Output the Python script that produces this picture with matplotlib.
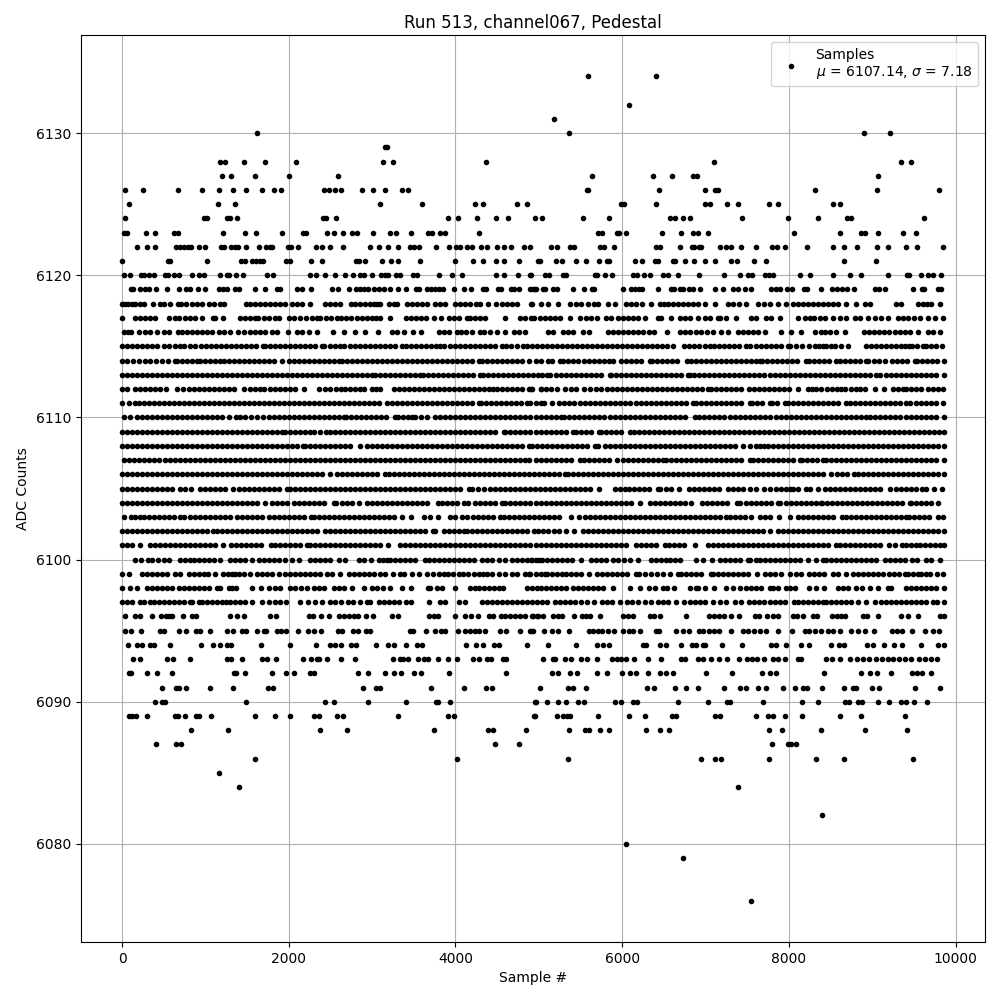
import matplotlib
matplotlib.use("Agg")
import matplotlib.pyplot as plt
import numpy as np

# sample numbers, one list per ADC count
adc_6134 = [5588, 6404]
adc_6132 = [6080]
adc_6131 = [5180]
adc_6130 = [1616, 5360, 8900, 9212]
adc_6129 = [3152, 3180]
adc_6128 = [1180, 1236, 1460, 1712, 2084, 3128, 3248, 4364, 7100, 9344, 9464]
adc_6127 = [1196, 1304, 1592, 2000, 2588, 5636, 6368, 6596, 6848, 6896, 9068]
adc_6126 = [32, 248, 668, 956, 1160, 1328, 1484, 1676, 1820, 1904, 2420, 2480, 2552, 2624, 2876, 3008, 3152, 3356, 3428,
            5576, 5592, 6440, 6992, 7112, 7144, 8312, 9056, 9800]
adc_6125 = [80, 1148, 1352, 3092, 3596, 4232, 4328, 4736, 4856, 5984, 6024, 6404, 6992, 7052, 7256, 7388, 7760, 7868, 8528, 8612]
adc_6124 = [32, 980, 1016, 1256, 1292, 1376, 2408, 2444, 2564, 3908, 4028, 4256, 4484, 4628, 4952, 5036, 5528, 5840, 6572,
            6632, 6728, 6812, 7436, 7988, 8348, 8696, 8744, 9620]
adc_6123 = [20, 56, 284, 392, 620, 668, 1208, 1472, 1604, 1916, 2168, 2204, 2456, 2540, 2648, 2756, 2816, 3008, 3212, 3284,
            3464, 3668, 3716, 3812, 3872, 4280, 5708, 5756, 5936, 5960, 6044, 6476, 6704, 6848, 6908, 7028, 8060, 8612, 8864,
            8912, 9068, 9368, 9524]
adc_6122 = [176, 296, 392, 644, 692, 740, 788, 828, 920, 992, 1184, 1220, 1304, 1352, 1396, 1484, 1640, 1724, 1772, 1796,
            1988, 2024, 2108, 2324, 2396, 2492, 2648, 2972, 3080, 3188, 3308, 3452, 3500, 3560, 3764, 3920, 4004, 4052, 4140,
            4200, 4308, 4376, 4496, 4580, 4664, 4820, 4892, 5144, 5216, 5372, 5420, 5732, 5780, 5900, 6404, 6452, 6692, 6836,
            6860, 6920, 6944, 7172, 7244, 7304, 7424, 7604, 7796, 7856, 7948, 8216, 8528, 8660, 8816, 9056, 9188, 9404, 9536, 9848]
adc_6121 = [0, 548, 572, 1016, 1424, 1472, 1556, 1604, 1652, 1688, 1964, 2012, 2264, 2396, 2804, 2840, 2912, 3116, 3224, 3308,
            3572, 3992, 4208, 4328, 4484, 4580, 4760, 4988, 5008, 5204, 5276, 5444, 5564, 5720, 5816, 5840, 6152, 6236, 6392,
            6428, 6608, 6632, 6752, 6860, 6992, 7112, 7304, 7376, 7580, 7724, 8660, 9044]
adc_6120 = [20, 92, 224, 260, 320, 380, 512, 548, 620, 680, 836, 920, 980, 1172, 1256, 1280, 1364, 1448, 1736, 1808, 2252,
            2324, 2432, 2552, 2672, 2768, 2852, 2900, 2996, 3104, 3152, 3188, 3284, 3332, 3488, 3536, 3800, 3956, 4076, 4484,
            4580, 4748, 4896, 4904, 5072, 5120, 5288, 5324, 5672, 5696, 5792, 5876, 6128, 6176, 6260, 6332, 6488, 6548, 6668,
            6920, 7220, 7412, 7508, 7556, 7712, 7760, 7808, 8132, 8252, 8528, 8732, 8864, 9188, 9416, 9440, 9584, 9668, 9728, 9824]
adc_6119 = [104, 128, 212, 272, 320, 404, 536, 680, 764, 812, 908, 992, 1160, 1208, 1256, 1352, 1400, 1592, 1712, 1856, 1892,
            2096, 2156, 2264, 2516, 2588, 2720, 2804, 2852, 2900, 2948, 3020, 3080, 3140, 3212, 3308, 3404, 3524, 3560, 3656,
            3704, 3752, 3800, 3848, 3980, 4100, 4184, 4328, 4364, 4508, 4544, 4664, 4700, 4760, 4892, 4928, 4952, 4968, 5048,
            5072, 5168, 5216, 5408, 5540, 5636, 5660, 6008, 6104, 6152, 6200, 6236, 6428, 6584, 6620, 6692, 6728, 6800, 6848,
            6932, 7112, 7208, 7328, 7388, 7472, 7544, 7784, 7844, 7892, 7976, 8036, 8180, 8216, 8384, 8516, 8576, 8636, 8696,
            8780, 9032, 9080, 9152, 9488, 9596, 9620, 9788, 9824]
adc_6118 = [0, 30, 70, 120, 160, 212, 260, 372, 460, 500, 580, 668, 708, 772, 840, 900, 960, 1040, 1100, 1170, 1220, 1492,
            1532, 1600, 1660, 1720, 1780, 1840, 1900, 1960, 2040, 2100, 2164, 2260, 2432, 2500, 2560, 2620, 2748, 2800, 2860,
            2920, 2980, 3024, 3060, 3100, 3200, 3260, 3300, 3420, 3480, 3540, 3600, 3660, 3760, 3820, 3880, 4000, 4060, 4120,
            4180, 4250, 4300, 4388, 4484, 4560, 4620, 4680, 4740, 4920, 4908, 5028, 5108, 5228, 5376, 5440, 5510, 5590, 5660,
            5708, 5828, 5912, 6048, 6110, 6170, 6236, 6348, 6448, 6500, 6548, 6608, 6670, 6730, 6790, 6850, 6910, 6988, 7112,
            7268, 7328, 7400, 7488, 7628, 7700, 7768, 7868, 7960, 8048, 8110, 8170, 8230, 8288, 8348, 8410, 8470, 8530, 8590,
            8688, 8800, 8912, 8968, 9288, 9348, 9548, 9610, 9660, 9708, 9816]
adc_6117 = [0, 160, 220, 280, 340, 400, 560, 640, 680, 760, 816, 880, 960, 1092, 1120, 1212, 1412, 1470, 1530, 1590, 1628,
            1700, 1760, 1830, 1880, 2000, 2060, 2130, 2212, 2280, 2340, 2380, 2450, 2510, 2580, 2628, 2690, 2750, 2820, 2880,
            2940, 3000, 3050, 3092, 3212, 3412, 3470, 3530, 3590, 3650, 3740, 3828, 3920, 3980, 4040, 4140, 4180, 4240, 4300,
            4360, 4592, 4772, 4840, 4940, 4908, 5008, 5070, 5130, 5190, 5248, 5368, 5488, 5560, 5630, 5700, 5808, 5868, 5948,
            6010, 6070, 6130, 6188, 6268, 6428, 6468, 6588, 6688, 6748, 6810, 6908, 6988, 7050, 7148, 7176, 7240, 7368, 7548,
            7608, 7728, 7790, 7888, 8108, 8188, 8250, 8300, 8368, 8428, 8528, 8608, 8688, 8788, 8850, 8948, 9032, 9108, 9188,
            9308, 9370, 9430, 9500, 9570, 9668, 9748, 9848]
adc_6116 = [20, 70, 108, 200, 280, 332, 420, 500, 560, 668, 720, 780, 840, 900, 960, 1020, 1080, 1160, 1228, 1292, 1388, 1460,
            1532, 1600, 1660, 1720, 1800, 1860, 1988, 2100, 2160, 2240, 2340, 2532, 2668, 2800, 2920, 3068, 3240, 3300, 3380,
            3488, 3588, 3800, 3860, 3920, 4020, 4068, 4128, 4200, 4300, 4340, 4420, 4500, 4600, 4700, 4760, 4840, 5108, 5168,
            5288, 5350, 5410, 5528, 5600, 5828, 5890, 5950, 6010, 6070, 6130, 6190, 6250, 6320, 6376, 6536, 6688, 6750, 6810,
            6880, 6950, 7020, 7088, 7184, 7268, 7388, 7448, 7508, 7568, 7630, 7708, 7908, 8028, 8148, 8308, 8388, 8428, 8490,
            8568, 8668, 8900, 8960, 9020, 9080, 9140, 9200, 9268, 9328, 9390, 9450, 9548, 9668, 9728, 9816]
adc_6115 = [0, 60, 120, 180, 240, 300, 360, 420, 508, 560, 630, 700, 748, 810, 880, 950, 1012, 1072, 1130, 1190, 1250, 1310,
            1370, 1430, 1490, 1550, 1610, 1688, 1720, 1780, 1840, 1900, 1960, 2020, 2080, 2140, 2200, 2260, 2320, 2400, 2428,
            2490, 2550, 2612, 2660, 2730, 2800, 2852, 2910, 2970, 3030, 3090, 3150, 3210, 3270, 3360, 3412, 3470, 3530, 3590,
            3650, 3710, 3770, 3820, 3868, 3930, 3990, 4050, 4110, 4170, 4230, 4290, 4350, 4410, 4470, 4560, 4604, 4670, 4740,
            4812, 4860, 4920, 4980, 5040, 5100, 5160, 5220, 5280, 5340, 5400, 5460, 5520, 5580, 5640, 5700, 5760, 5820, 5880,
            5940, 6000, 6060, 6120, 6180, 6240, 6300, 6360, 6420, 6480, 6540, 6608, 6736, 6800, 6860, 6920, 6990, 7056, 7096,
            7160, 7220, 7280, 7340, 7400, 7480, 7536, 7600, 7660, 7720, 7780, 7840, 7900, 7988, 8016, 8080, 8160, 8240, 8308,
            8360, 8408, 8448, 8508, 8548, 8628, 8708, 8928, 8990, 9050, 9110, 9160, 9228, 9280, 9340, 9390, 9440, 9480, 9540,
            9608, 9648, 9710, 9770, 9832]
adc_6114 = [0, 60, 130, 200, 270, 340, 410, 480, 550, 640, 660, 720, 780, 840, 900, 940, 1000, 1060, 1120, 1170, 1220, 1280,
            1340, 1400, 1460, 1520, 1580, 1640, 1700, 1760, 1820, 1920, 2000, 2060, 2120, 2180, 2240, 2300, 2360, 2420, 2480,
            2540, 2600, 2640, 2700, 2760, 2820, 2880, 2940, 3000, 3060, 3120, 3180, 3240, 3300, 3360, 3420, 3480, 3540, 3600,
            3660, 3720, 3780, 3840, 3900, 3960, 4020, 4080, 4140, 4200, 4280, 4320, 4380, 4440, 4500, 4560, 4620, 4680, 4740,
            4800, 4880, 4960, 5030, 5108, 5160, 5248, 5288, 5350, 5410, 5470, 5536, 5600, 5660, 5720, 5780, 5840, 5888, 5988,
            6050, 6110, 6170, 6230, 6328, 6360, 6420, 6480, 6540, 6600, 6660, 6776, 6820, 6880, 6940, 7000, 7060, 7120, 7180,
            7240, 7300, 7360, 7420, 7480, 7540, 7600, 7648, 7680, 7740, 7800, 7860, 7920, 7980, 8040, 8100, 8208, 8240, 8300,
            8360, 8420, 8480, 8568, 8608, 8670, 8730, 8790, 8850, 8920, 8952, 9020, 9080, 9148, 9240, 9300, 9360, 9420, 9508,
            9536, 9600, 9660, 9720, 9780, 9860]
adc_6113 = [0, 60, 120, 180, 240, 300, 360, 420, 480, 540, 600, 660, 720, 780, 840, 900, 960, 1020, 1080, 1140, 1200, 1260,
            1320, 1380, 1440, 1500, 1560, 1620, 1680, 1740, 1800, 1860, 1920, 1980, 2040, 2100, 2160, 2220, 2280, 2340, 2400,
            2460, 2520, 2580, 2640, 2700, 2760, 2820, 2880, 2940, 3000, 3030, 3090, 3150, 3210, 3270, 3330, 3390, 3450, 3510,
            3580, 3612, 3670, 3730, 3790, 3850, 3910, 3970, 4030, 4090, 4150, 4210, 4300, 4332, 4390, 4450, 4510, 4570, 4630,
            4690, 4750, 4810, 4870, 4930, 4990, 5040, 5096, 5136, 5200, 5260, 5320, 5380, 5440, 5500, 5560, 5620, 5680, 5740,
            5848, 5868, 5930, 5990, 6050, 6110, 6170, 6230, 6290, 6350, 6410, 6470, 6530, 6590, 6650, 6710, 6788, 6808, 6856,
            6920, 6980, 7040, 7100, 7160, 7220, 7280, 7340, 7400, 7460, 7520, 7580, 7640, 7700, 7768, 7828, 7890, 7950, 8010,
            8070, 8130, 8190, 8250, 8310, 8370, 8430, 8490, 8550, 8610, 8670, 8730, 8790, 8850, 8910, 8970, 9048, 9096, 9160,
            9220, 9280, 9340, 9400, 9460, 9520, 9580, 9640, 9700, 9760, 9860]
adc_6112 = [0, 60, 160, 220, 280, 340, 400, 460, 532, 660, 730, 800, 860, 920, 980, 1040, 1100, 1160, 1220, 1280, 1340, 1460,
            1530, 1600, 1660, 1700, 1780, 1840, 1900, 1960, 2020, 2080, 2180, 2360, 2430, 2500, 2572, 2630, 2680, 2740, 2800,
            2860, 2900, 3000, 3050, 3100, 3260, 3320, 3380, 3440, 3500, 3560, 3620, 3680, 3740, 3800, 3860, 3920, 3980, 4040,
            4100, 4160, 4220, 4280, 4340, 4400, 4452, 4500, 4560, 4620, 4680, 4740, 4800, 4880, 4920, 5020, 4908, 5028, 5080,
            5150, 5216, 5308, 5380, 5448, 5536, 5610, 5680, 5748, 5816, 5880, 5940, 6000, 6060, 6120, 6180, 6240, 6300, 6360,
            6420, 6480, 6540, 6600, 6660, 6720, 6780, 6840, 6900, 6960, 7028, 7068, 7130, 7190, 7250, 7308, 7360, 7428, 7520,
            7576, 7640, 7700, 7760, 7820, 7880, 7940, 8000, 8108, 8228, 8280, 8328, 8388, 8456, 8520, 8580, 8628, 8676, 8740,
            8800, 8850, 8908, 9028, 9140, 9248, 9310, 9370, 9408, 9468, 9528, 9588, 9668, 9728, 9790, 9848]
adc_6111 = [0, 80, 160, 200, 260, 320, 380, 440, 500, 560, 620, 680, 740, 800, 860, 920, 980, 1040, 1100, 1160, 1220, 1280,
            1340, 1400, 1460, 1520, 1580, 1640, 1700, 1760, 1820, 1880, 1940, 2000, 2060, 2120, 2180, 2240, 2300, 2360, 2420,
            2480, 2540, 2600, 2660, 2720, 2780, 2840, 2900, 2960, 3020, 3080, 3180, 3240, 3300, 3360, 3420, 3480, 3540, 3600,
            3660, 3720, 3780, 3840, 3900, 3960, 4020, 4080, 4140, 4200, 4280, 4308, 4370, 4430, 4490, 4550, 4610, 4670, 4730,
            4790, 4860, 4900, 4960, 5020, 5056, 5160, 5240, 5300, 5360, 5420, 5488, 5548, 5610, 5670, 5730, 5790, 5850, 5910,
            5970, 6028, 6096, 6160, 6220, 6280, 6340, 6400, 6460, 6520, 6580, 6640, 6700, 6760, 6848, 6880, 6940, 7000, 7060,
            7120, 7180, 7240, 7300, 7360, 7420, 7528, 7560, 7620, 7680, 7768, 7800, 7860, 7948, 7988, 8050, 8110, 8170, 8230,
            8290, 8350, 8410, 8470, 8530, 8590, 8688, 8728, 8790, 8850, 8910, 8970, 9030, 9090, 9150, 9210, 9270, 9328, 9408,
            9456, 9520, 9580, 9640, 9700, 9760, 9848]
adc_6110 = [28, 100, 180, 240, 300, 360, 420, 480, 540, 600, 660, 720, 780, 840, 900, 960, 1020, 1080, 1140, 1200, 1280, 1372,
            1412, 1480, 1550, 1620, 1692, 1760, 1820, 1880, 1940, 2000, 2060, 2120, 2180, 2240, 2300, 2360, 2420, 2480, 2540,
            2600, 2660, 2692, 2750, 2810, 2870, 2930, 2990, 3050, 3110, 3170, 3280, 3308, 3370, 3430, 3480, 3520, 3590, 3660,
            3752, 3820, 3880, 3940, 4000, 4060, 4120, 4180, 4240, 4300, 4360, 4420, 4480, 4540, 4600, 4660, 4720, 4780, 4840,
            4900, 4960, 5020, 5080, 5140, 5200, 5268, 5296, 5360, 5420, 5480, 5540, 5600, 5660, 5720, 5780, 5848, 5908, 5976,
            6028, 6090, 6150, 6210, 6270, 6330, 6390, 6450, 6510, 6570, 6630, 6690, 6750, 6868, 6920, 6980, 7040, 7100, 7160,
            7220, 7296, 7348, 7408, 7470, 7530, 7590, 7650, 7708, 7776, 7840, 7900, 7960, 8020, 8080, 8140, 8200, 8260, 8320,
            8380, 8440, 8500, 8560, 8620, 8680, 8740, 8800, 8860, 8928, 8968, 9030, 9090, 9150, 9210, 9268, 9336, 9400, 9460,
            9520, 9580, 9640, 9700, 9760, 9860]
adc_6109 = [0, 60, 120, 180, 240, 300, 360, 420, 480, 540, 600, 660, 720, 780, 840, 900, 960, 1020, 1080, 1140, 1200, 1260,
            1320, 1380, 1440, 1500, 1560, 1620, 1680, 1740, 1800, 1860, 1920, 1960, 2020, 2080, 2140, 2200, 2260, 2308, 2380,
            2452, 2500, 2560, 2620, 2680, 2740, 2800, 2860, 2920, 2980, 3040, 3100, 3160, 3220, 3280, 3340, 3400, 3460, 3520,
            3580, 3640, 3700, 3760, 3820, 3880, 3940, 4000, 4060, 4120, 4180, 4240, 4300, 4360, 4420, 4480, 4580, 4600, 4660,
            4720, 4780, 4840, 4900, 4960, 5020, 5080, 5140, 5200, 5260, 5320, 5408, 5440, 5500, 5560, 5620, 5720, 5748, 5810,
            5870, 5930, 5990, 6096, 6136, 6200, 6260, 6320, 6380, 6440, 6500, 6560, 6620, 6680, 6740, 6800, 6860, 6920, 6980,
            7040, 7100, 7160, 7220, 7280, 7340, 7400, 7460, 7520, 7580, 7640, 7700, 7760, 7820, 7880, 7940, 8000, 8060, 8120,
            8180, 8240, 8300, 8360, 8420, 8480, 8540, 8600, 8660, 8720, 8780, 8840, 8900, 8960, 9020, 9080, 9140, 9200, 9260,
            9320, 9380, 9440, 9500, 9560, 9620, 9680, 9740, 9800, 9860]
adc_6108 = [0, 60, 120, 180, 240, 300, 360, 420, 480, 540, 600, 660, 720, 780, 840, 900, 960, 1020, 1080, 1140, 1200, 1260,
            1320, 1380, 1440, 1500, 1560, 1620, 1680, 1740, 1800, 1860, 1920, 1980, 2040, 2100, 2172, 2200, 2260, 2320, 2380,
            2440, 2500, 2560, 2620, 2680, 2740, 2860, 2940, 3000, 3060, 3120, 3180, 3240, 3300, 3360, 3420, 3480, 3540, 3600,
            3660, 3720, 3780, 3840, 3900, 3960, 4020, 4080, 4140, 4200, 4260, 4320, 4380, 4440, 4500, 4560, 4620, 4680, 4740,
            4800, 4880, 4920, 4980, 5040, 5100, 5160, 5220, 5280, 5340, 5400, 5460, 5520, 5580, 5668, 5708, 5788, 5850, 5910,
            5970, 6030, 6090, 6150, 6210, 6270, 6330, 6390, 6450, 6510, 6570, 6630, 6690, 6750, 6810, 6870, 6930, 6990, 7050,
            7110, 7170, 7230, 7290, 7350, 7448, 7536, 7600, 7650, 7700, 7744, 7810, 7870, 7930, 7990, 8050, 8110, 8170, 8230,
            8290, 8350, 8410, 8470, 8530, 8590, 8650, 8710, 8770, 8830, 8890, 8950, 9010, 9070, 9130, 9190, 9250, 9310, 9370,
            9430, 9490, 9550, 9610, 9670, 9730, 9790, 9860]
adc_6107 = [20, 80, 140, 200, 260, 320, 380, 440, 520, 572, 640, 700, 760, 820, 880, 940, 1000, 1060, 1120, 1180, 1240, 1300,
            1360, 1420, 1480, 1540, 1600, 1660, 1720, 1780, 1840, 1900, 1960, 2020, 2080, 2140, 2200, 2260, 2320, 2380, 2440,
            2500, 2560, 2620, 2680, 2740, 2800, 2860, 2920, 2980, 3040, 3100, 3160, 3220, 3280, 3340, 3400, 3460, 3520, 3580,
            3640, 3700, 3760, 3820, 3880, 3940, 4000, 4060, 4120, 4180, 4240, 4300, 4360, 4420, 4480, 4540, 4600, 4660, 4720,
            4780, 4840, 4888, 4968, 5028, 5090, 5150, 5210, 5270, 5330, 5390, 5488, 5536, 5600, 5660, 5720, 5776, 5840, 5936,
            6008, 6070, 6130, 6190, 6250, 6310, 6370, 6430, 6488, 6528, 6590, 6650, 6710, 6770, 6830, 6890, 6950, 7010, 7070,
            7130, 7190, 7250, 7310, 7370, 7430, 7536, 7568, 7630, 7690, 7750, 7810, 7870, 7930, 7990, 8050, 8128, 8160, 8220,
            8280, 8340, 8408, 8448, 8510, 8570, 8630, 8690, 8750, 8810, 8870, 8930, 8990, 9050, 9110, 9170, 9230, 9290, 9350,
            9410, 9470, 9530, 9590, 9650, 9710, 9770, 9860]
adc_6106 = [0, 60, 120, 180, 240, 300, 360, 420, 480, 540, 600, 660, 720, 780, 840, 900, 960, 1020, 1080, 1140, 1200, 1260,
            1320, 1380, 1440, 1500, 1560, 1620, 1680, 1740, 1800, 1860, 1920, 1980, 2040, 2100, 2160, 2220, 2280, 2340, 2400,
            2500, 2580, 2640, 2700, 2760, 2820, 2880, 2940, 3000, 3060, 3160, 3200, 3260, 3320, 3380, 3440, 3500, 3560, 3620,
            3680, 3740, 3800, 3860, 3920, 3980, 4040, 4100, 4160, 4220, 4280, 4340, 4400, 4460, 4520, 4580, 4640, 4700, 4760,
            4820, 4880, 4940, 5000, 5060, 5120, 5180, 5240, 5308, 5348, 5410, 5470, 5530, 5590, 5650, 5710, 5770, 5830, 5890,
            5950, 6010, 6070, 6130, 6190, 6250, 6310, 6370, 6430, 6490, 6550, 6610, 6670, 6730, 6790, 6850, 6910, 6970, 7030,
            7090, 7150, 7210, 7270, 7330, 7390, 7450, 7510, 7570, 7630, 7690, 7750, 7810, 7870, 7930, 7990, 8050, 8110, 8170,
            8230, 8290, 8350, 8410, 8508, 8576, 8640, 8700, 8776, 8828, 8890, 8950, 9010, 9070, 9130, 9190, 9250, 9310, 9370,
            9430, 9490, 9550, 9610, 9670, 9730, 9790, 9860]
adc_6105 = [0, 60, 120, 180, 240, 300, 360, 420, 480, 540, 600, 700, 760, 828, 932, 1000, 1060, 1120, 1180, 1240, 1332, 1400,
            1460, 1520, 1580, 1640, 1700, 1760, 1820, 1880, 1980, 2020, 2080, 2140, 2200, 2260, 2320, 2380, 2440, 2500, 2560,
            2620, 2680, 2740, 2800, 2860, 2920, 2980, 3040, 3100, 3160, 3220, 3280, 3340, 3400, 3460, 3520, 3580, 3640, 3700,
            3760, 3820, 3880, 3940, 4000, 4060, 4160, 4200, 4268, 4348, 4410, 4470, 4530, 4590, 4650, 4710, 4770, 4830, 4890,
            4950, 5010, 5070, 5130, 5190, 5250, 5310, 5370, 5430, 5490, 5550, 5610, 5720, 5908, 5970, 6028, 6080, 6140, 6200,
            6260, 6320, 6428, 6456, 6520, 6580, 6680, 6800, 6860, 6920, 6980, 7040, 7100, 7160, 7268, 7328, 7390, 7448, 7528,
            7608, 7700, 7776, 7840, 7900, 7960, 8008, 8048, 8110, 8208, 8256, 8348, 8428, 8490, 8550, 8610, 8670, 8730, 8790,
            8850, 8910, 8970, 9030, 9090, 9208, 9288, 9350, 9410, 9470, 9530, 9600, 9640, 9736, 9840]
adc_6104 = [0, 60, 120, 180, 240, 300, 360, 420, 480, 540, 600, 660, 720, 780, 840, 900, 960, 1020, 1080, 1140, 1200, 1260,
            1320, 1380, 1440, 1500, 1560, 1620, 1720, 1800, 1860, 1920, 1980, 2060, 2120, 2180, 2240, 2300, 2360, 2420, 2540,
            2572, 2640, 2700, 2760, 2840, 2940, 3000, 3060, 3120, 3180, 3240, 3300, 3360, 3420, 3480, 3540, 3600, 3660, 3788,
            3840, 3900, 3960, 4020, 4100, 4150, 4240, 4300, 4360, 4420, 4480, 4560, 4600, 4660, 4720, 4780, 4840, 4900, 4960,
            5020, 5080, 5140, 5200, 5260, 5320, 5380, 5440, 5500, 5560, 5620, 5680, 5740, 5800, 5860, 5920, 5980, 6040, 6100,
            6208, 6328, 6390, 6450, 6510, 6570, 6630, 6690, 6750, 6820, 6960, 7020, 7080, 7140, 7200, 7260, 7376, 7416, 7480,
            7540, 7600, 7660, 7720, 7780, 7868, 7896, 7960, 8020, 8080, 8140, 8200, 8260, 8320, 8388, 8400, 8460, 8520, 8580,
            8640, 8700, 8760, 8820, 8880, 8940, 9000, 9060, 9120, 9180, 9240, 9300, 9360, 9448, 9468, 9530, 9590, 9650, 9710, 9788]
adc_6103 = [20, 108, 160, 220, 260, 320, 380, 440, 500, 560, 620, 700, 740, 810, 880, 932, 1000, 1060, 1120, 1180, 1240, 1300,
            1380, 1440, 1500, 1560, 1620, 1680, 1760, 1820, 1880, 1940, 2000, 2060, 2120, 2180, 2268, 2300, 2360, 2420, 2480,
            2540, 2600, 2660, 2720, 2780, 2840, 2900, 2960, 3020, 3080, 3140, 3200, 3260, 3360, 3468, 3620, 3700, 3788, 3932,
            4000, 4080, 4140, 4212, 4270, 4330, 4390, 4450, 4540, 4580, 4640, 4700, 4760, 4820, 4880, 4940, 5000, 5060, 5120,
            5176, 5240, 5388, 5480, 5548, 5608, 5670, 5730, 5790, 5850, 5910, 5970, 6030, 6090, 6150, 6210, 6270, 6330, 6390,
            6450, 6510, 6570, 6630, 6690, 6750, 6810, 6870, 6930, 6990, 7050, 7110, 7170, 7248, 7288, 7350, 7410, 7470, 7548,
            7648, 7710, 7770, 7880, 8008, 8108, 8170, 8230, 8290, 8350, 8410, 8470, 8530, 8640, 8680, 8740, 8800, 8860, 8920,
            8980, 9040, 9100, 9160, 9220, 9280, 9340, 9408, 9440, 9500, 9560, 9620, 9680, 9788, 9848]
adc_6102 = [0, 60, 120, 180, 240, 300, 360, 420, 480, 540, 600, 660, 720, 780, 840, 900, 960, 1020, 1092, 1140, 1200, 1260,
            1320, 1380, 1440, 1500, 1560, 1620, 1680, 1740, 1800, 1860, 1920, 1980, 2040, 2100, 2160, 2220, 2280, 2340, 2440,
            2500, 2560, 2620, 2680, 2740, 2800, 2860, 2920, 2980, 3040, 3100, 3160, 3220, 3280, 3340, 3400, 3460, 3520, 3580,
            3640, 3732, 3760, 3860, 3920, 3980, 4040, 4100, 4140, 4200, 4260, 4320, 4380, 4440, 4500, 4560, 4620, 4680, 4740,
            4800, 4860, 4940, 4988, 5050, 5110, 5176, 5240, 5330, 5416, 5528, 5590, 5650, 5710, 5770, 5830, 5890, 5950, 6010,
            6070, 6130, 6190, 6250, 6310, 6370, 6430, 6490, 6550, 6610, 6670, 6730, 6790, 6850, 6910, 6970, 7030, 7090, 7150,
            7210, 7270, 7330, 7390, 7450, 7510, 7570, 7630, 7690, 7776, 7868, 7930, 7990, 8050, 8110, 8170, 8230, 8290, 8350,
            8410, 8470, 8530, 8590, 8650, 8710, 8770, 8830, 8890, 8950, 9010, 9070, 9130, 9190, 9250, 9310, 9370, 9430, 9488,
            9548, 9610, 9670, 9730, 9790, 9860]
adc_6101 = [0, 60, 120, 220, 332, 390, 450, 510, 570, 630, 690, 750, 810, 870, 930, 990, 1050, 1110, 1212, 1308, 1370, 1430,
            1490, 1550, 1610, 1670, 1788, 1840, 1900, 1960, 2020, 2080, 2140, 2220, 2252, 2320, 2380, 2440, 2500, 2560, 2620,
            2680, 2740, 2800, 2860, 2920, 2980, 3040, 3100, 3188, 3340, 3400, 3460, 3520, 3580, 3640, 3700, 3760, 3820, 3880,
            3940, 4000, 4060, 4120, 4180, 4240, 4300, 4360, 4420, 4480, 4540, 4600, 4660, 4720, 4780, 4840, 4900, 4960, 5020,
            5080, 5140, 5200, 5260, 5320, 5380, 5440, 5500, 5560, 5620, 5680, 5740, 5800, 5860, 5920, 5980, 6040, 6160, 6228,
            6290, 6350, 6410, 6508, 6560, 6620, 6680, 6740, 6868, 7028, 7090, 7150, 7210, 7270, 7330, 7390, 7450, 7510, 7570,
            7630, 7690, 7750, 7810, 7870, 7930, 7990, 8050, 8110, 8170, 8230, 8290, 8350, 8410, 8470, 8568, 8608, 8670, 8730,
            8790, 8850, 8910, 8970, 9030, 9090, 9200, 9268, 9360, 9400, 9460, 9520, 9576, 9628, 9690, 9750, 9810, 9860]
adc_6100 = [160, 230, 308, 360, 430, 500, 560, 700, 760, 812, 860, 920, 980, 1040, 1100, 1180, 1300, 1360, 1420, 1480, 1560,
            1640, 1700, 1760, 1820, 1880, 1960, 2040, 2120, 2260, 2320, 2380, 2440, 2500, 2600, 2680, 2840, 2900, 2990, 3080,
            3130, 3180, 3220, 3280, 3340, 3400, 3460, 3520, 3640, 3680, 3740, 3800, 3860, 3920, 3980, 4040, 4100, 4160, 4220,
            4320, 4380, 4440, 4520, 4600, 4680, 4740, 4800, 4860, 4920, 5000, 4908, 4968, 5040, 5100, 5160, 5220, 5280, 5340,
            5400, 5508, 5628, 5690, 5750, 5810, 5888, 5948, 6020, 6096, 6188, 6348, 6410, 6470, 6528, 6568, 6630, 6688, 6880,
            6968, 7076, 7168, 7230, 7290, 7350, 7410, 7508, 7536, 7608, 7648, 7710, 7770, 7830, 7890, 7950, 8010, 8070, 8130,
            8228, 8328, 8408, 8448, 8510, 8570, 8630, 8690, 8750, 8810, 8870, 8930, 8990, 9050, 9148, 9208, 9270, 9330, 9390,
            9480, 9536, 9648, 9708, 9808]
adc_6099 = [0, 80, 240, 300, 360, 420, 480, 540, 640, 700, 800, 860, 920, 980, 1030, 1110, 1212, 1270, 1320, 1360, 1400, 1460,
            1540, 1620, 1680, 1740, 1800, 1880, 1960, 2020, 2080, 2140, 2200, 2260, 2320, 2380, 2460, 2520, 2620, 2720, 2780,
            2840, 2900, 2960, 3020, 3100, 3160, 3250, 3340, 3380, 3480, 3560, 3660, 3732, 3800, 3860, 3908, 3970, 4040, 4092,
            4150, 4220, 4280, 4330, 4380, 4440, 4520, 4600, 4680, 4740, 4840, 4900, 4960, 5020, 4888, 5068, 5096, 5160, 5220,
            5280, 5328, 5380, 5448, 5508, 5600, 5696, 5760, 5820, 5880, 5940, 6000, 6060, 6168, 6200, 6270, 6348, 6416, 6488,
            6568, 6668, 6708, 6768, 6830, 6890, 6950, 7068, 7088, 7150, 7210, 7270, 7330, 7390, 7450, 7510, 7616, 7708, 7770,
            7830, 7908, 8008, 8088, 8148, 8240, 8300, 8360, 8420, 8528, 8588, 8688, 8768, 8830, 8890, 8950, 9010, 9070, 9128,
            9200, 9260, 9320, 9388, 9428, 9490, 9548, 9588, 9648, 9688, 9776, 9848]
adc_6098 = [4, 92, 180, 300, 360, 420, 480, 540, 600, 680, 740, 800, 860, 920, 980, 1040, 1140, 1180, 1280, 1320, 1372, 1560,
            1668, 1760, 1840, 1900, 2020, 2080, 2150, 2220, 2300, 2360, 2420, 2540, 2600, 2660, 2760, 2900, 3000, 3060, 3132,
            3220, 3360, 3468, 3668, 3700, 3780, 3840, 3992, 4172, 4240, 4280, 4340, 4400, 4460, 4520, 4572, 4860, 4920, 4980,
            5028, 5088, 5150, 5210, 5270, 5330, 5408, 5468, 5530, 5590, 5650, 5710, 5770, 5888, 6096, 6208, 6320, 6392, 6488,
            6536, 6620, 6808, 6888, 6908, 6988, 7096, 7248, 7330, 7408, 7488, 7550, 7610, 7670, 7768, 7808, 7870, 7968, 8008,
            8068, 8240, 8328, 8420, 8588, 8650, 8710, 8800, 8880, 8970, 9068, 9188, 9228, 9408, 9470, 9530, 9590, 9650, 9710,
            9770, 9860]
adc_6097 = [0, 60, 120, 220, 260, 340, 380, 440, 500, 560, 620, 680, 740, 812, 840, 920, 960, 1020, 1080, 1140, 1200, 1252,
            1292, 1350, 1410, 1470, 1560, 1680, 1760, 1840, 1900, 1972, 2140, 2230, 2320, 2400, 2492, 2560, 2630, 2708, 2768,
            2860, 2940, 2980, 3080, 3140, 3200, 3260, 3320, 3412, 3468, 3680, 3812, 3880, 4040, 4120, 4320, 4380, 4440, 4500,
            4560, 4620, 4680, 4740, 4800, 4860, 4920, 4980, 5040, 5100, 5188, 5248, 5310, 5370, 5430, 5508, 5576, 5656, 5760,
            5820, 5880, 5968, 6056, 6120, 6190, 6268, 6348, 6428, 6490, 6550, 6640, 6740, 6808, 6870, 6930, 6988, 7088, 7168,
            7248, 7348, 7420, 7520, 7576, 7640, 7700, 7768, 7828, 7890, 7950, 8060, 8108, 8170, 8230, 8290, 8350, 8408, 8448,
            8510, 8570, 8630, 8690, 8748, 8828, 8928, 9028, 9108, 9160, 9220, 9280, 9340, 9400, 9460, 9520, 9580, 9640, 9728,
            9776, 9860]
adc_6096 = [32, 152, 212, 356, 464, 524, 560, 596, 728, 836, 884, 1292, 1376, 1460, 1772, 1844, 2240, 2288, 2384, 2480, 2600,
            2660, 2720, 2780, 2828, 2924, 3008, 3236, 3308, 3680, 3740, 3788, 3992, 4112, 4184, 4268, 4400, 4448, 4548, 4600,
            4660, 4720, 4780, 4840, 4920, 4980, 4928, 4988, 5048, 5168, 5228, 5276, 5420, 5516, 5568, 5612, 5736, 6008, 6068,
            6128, 6332, 6380, 6452, 6764, 7040, 7100, 7160, 7220, 7304, 7400, 7592, 7640, 7736, 7808, 7868, 8048, 8096, 8168,
            8288, 8336, 8516, 8576, 8624, 8672, 8888, 8936, 9068, 9344, 9428, 9548, 9812, 9860]
adc_6095 = [32, 104, 224, 452, 500, 680, 764, 884, 932, 1052, 1256, 1328, 1436, 1484, 1616, 1700, 1724, 1856, 1904, 1964, 2108,
            2228, 2300, 2384, 2588, 2636, 2768, 2828, 2924, 2972, 3452, 3488, 3644, 3752, 3824, 3872, 4028, 4112, 4172, 4232,
            4280, 4352, 4536, 4604, 4780, 4892, 4928, 4908, 5060, 5156, 5228, 5360, 5600, 5648, 5708, 5756, 5828, 5900, 6008,
            6080, 6128, 6212, 6404, 6440, 6644, 6728, 6800, 6920, 6968, 7040, 7100, 7160, 7304, 7448, 7508, 7580, 7652, 7724,
            7868, 8036, 8192, 8240, 8312, 8384, 8468, 8528, 8612, 8744, 8828, 8912, 9020, 9236, 9296, 9356, 9476, 9632, 9732, 9800]
adc_6094 = [68, 176, 236, 332, 380, 572, 944, 1088, 1172, 1256, 1304, 1664, 2012, 2324, 2492, 2552, 2624, 2744, 2804, 3044,
            3188, 3260, 3404, 3536, 3596, 4124, 4244, 4328, 4460, 4520, 4856, 5108, 5444, 5696, 5768, 5840, 6248, 6284, 6452,
            6524, 6704, 6836, 6884, 6968, 6992, 7196, 7436, 7784, 7844, 7964, 8144, 8240, 8504, 8600, 8660, 8936, 9008, 9140,
            9260, 9356, 9584, 9788, 9860]
adc_6093 = [128, 212, 536, 608, 812, 1256, 1304, 1436, 1676, 1736, 1844, 2168, 2264, 2336, 2360, 2456, 2624, 2792, 3248, 3332,
            3368, 3428, 3548, 3620, 3668, 3788, 3908, 4016, 4208, 4280, 4376, 4424, 4568, 4604, 5048, 5168, 5192, 5312, 5384,
            5504, 5576, 5696, 5876, 5936, 5984, 6044, 6140, 6308, 6464, 6704, 6752, 6908, 6968, 7064, 7160, 7256, 7400, 7496,
            7556, 7616, 7700, 7808, 7868, 7952, 8108, 8144, 8444, 8516, 8612, 8732, 8816, 8888, 8960, 9044, 9116, 9188, 9248,
            9320, 9392, 9464, 9560, 9632, 9704, 9776]
adc_6092 = [80, 104, 296, 416, 596, 1340, 1364, 1472, 1796, 1964, 2060, 2252, 2300, 2828, 2948, 3152, 3260, 3344, 3500, 3584,
            3920, 4604, 5156, 5228, 5372, 5456, 5696, 5816, 5996, 6092, 6164, 6308, 6452, 6524, 6608, 7004, 7316, 7676, 7772,
            7844, 8420, 8864, 8972, 9056, 9224, 9476, 9536, 9596, 9704]
adc_6091 = [476, 644, 680, 764, 1052, 1328, 1748, 1808, 2888, 3044, 3092, 3704, 4100, 4364, 4436, 5012, 5348, 5408, 5564, 6296,
            6380, 6632, 6764, 6908, 7220, 7412, 7484, 7628, 7724, 7928, 8072, 8168, 8216, 8396, 8660, 8768, 8804, 8996, 9080,
            9512, 9812]
adc_6090 = [392, 476, 512, 1484, 2432, 2540, 2948, 3404, 3764, 3788, 3932, 4964, 4952, 5096, 5228, 5324, 5468, 5540, 5912, 5984,
            6128, 6176, 6668, 7028, 7256, 7292, 7688, 8156, 8348, 8672, 8720, 8828, 8876, 9068, 9200, 9344, 9404, 9500, 9656]
adc_6089 = [80, 116, 164, 296, 632, 668, 752, 884, 920, 1064, 1592, 1832, 2012, 2300, 2360, 2576, 2648, 3308, 3908, 3980, 4952,
            4940, 5216, 5288, 5336, 5372, 5708, 6080, 6272, 6596, 6644, 7112, 7172, 7604, 7748, 7808, 7952, 8156, 8612, 8864, 9392]
adc_6088 = [824, 1268, 2372, 2696, 3740, 4388, 4448, 4844, 5360, 5552, 5600, 5732, 5840, 6284, 6452, 6560, 7760, 7916, 8384,
            8912, 9416]
adc_6087 = [404, 644, 704, 4472, 4760, 7796, 7988, 8024, 8084]
adc_6086 = [1592, 4016, 5348, 6944, 7112, 7184, 7760, 8324, 8660, 9488]
adc_6085 = [1160]
adc_6084 = [1400, 7388]
adc_6082 = [8396]
adc_6080 = [6044]
adc_6079 = [6728]
adc_6076 = [7544]

levels = {6134: adc_6134, 6132: adc_6132, 6131: adc_6131, 6130: adc_6130, 6129: adc_6129, 6128: adc_6128, 6127: adc_6127,
          6126: adc_6126, 6125: adc_6125, 6124: adc_6124, 6123: adc_6123, 6122: adc_6122, 6121: adc_6121, 6120: adc_6120,
          6119: adc_6119, 6118: adc_6118, 6117: adc_6117, 6116: adc_6116, 6115: adc_6115, 6114: adc_6114, 6113: adc_6113,
          6112: adc_6112, 6111: adc_6111, 6110: adc_6110, 6109: adc_6109, 6108: adc_6108, 6107: adc_6107, 6106: adc_6106,
          6105: adc_6105, 6104: adc_6104, 6103: adc_6103, 6102: adc_6102, 6101: adc_6101, 6100: adc_6100, 6099: adc_6099,
          6098: adc_6098, 6097: adc_6097, 6096: adc_6096, 6095: adc_6095, 6094: adc_6094, 6093: adc_6093, 6092: adc_6092,
          6091: adc_6091, 6090: adc_6090, 6089: adc_6089, 6088: adc_6088, 6087: adc_6087, 6086: adc_6086, 6085: adc_6085,
          6084: adc_6084, 6082: adc_6082, 6080: adc_6080, 6079: adc_6079, 6076: adc_6076}

samples = np.concatenate([np.array(v) for v in levels.values()])
counts = np.concatenate([np.full(len(v), k) for k, v in levels.items()])

plt.figure(figsize=(10, 10))
plt.scatter(samples, counts, marker=".", color="k", zorder=2,
            label="Samples\n$\\mu$ = 6107.14, $\\sigma$ = 7.18")
plt.title("Run 513, channel067, Pedestal", pad=5)
plt.xlabel("Sample #")
plt.ylabel("ADC Counts")
plt.grid(True)
plt.legend(loc="upper right")
plt.subplots_adjust(left=0.081, right=0.985, top=0.965, bottom=0.058)
plt.savefig("out.png", dpi=100)
